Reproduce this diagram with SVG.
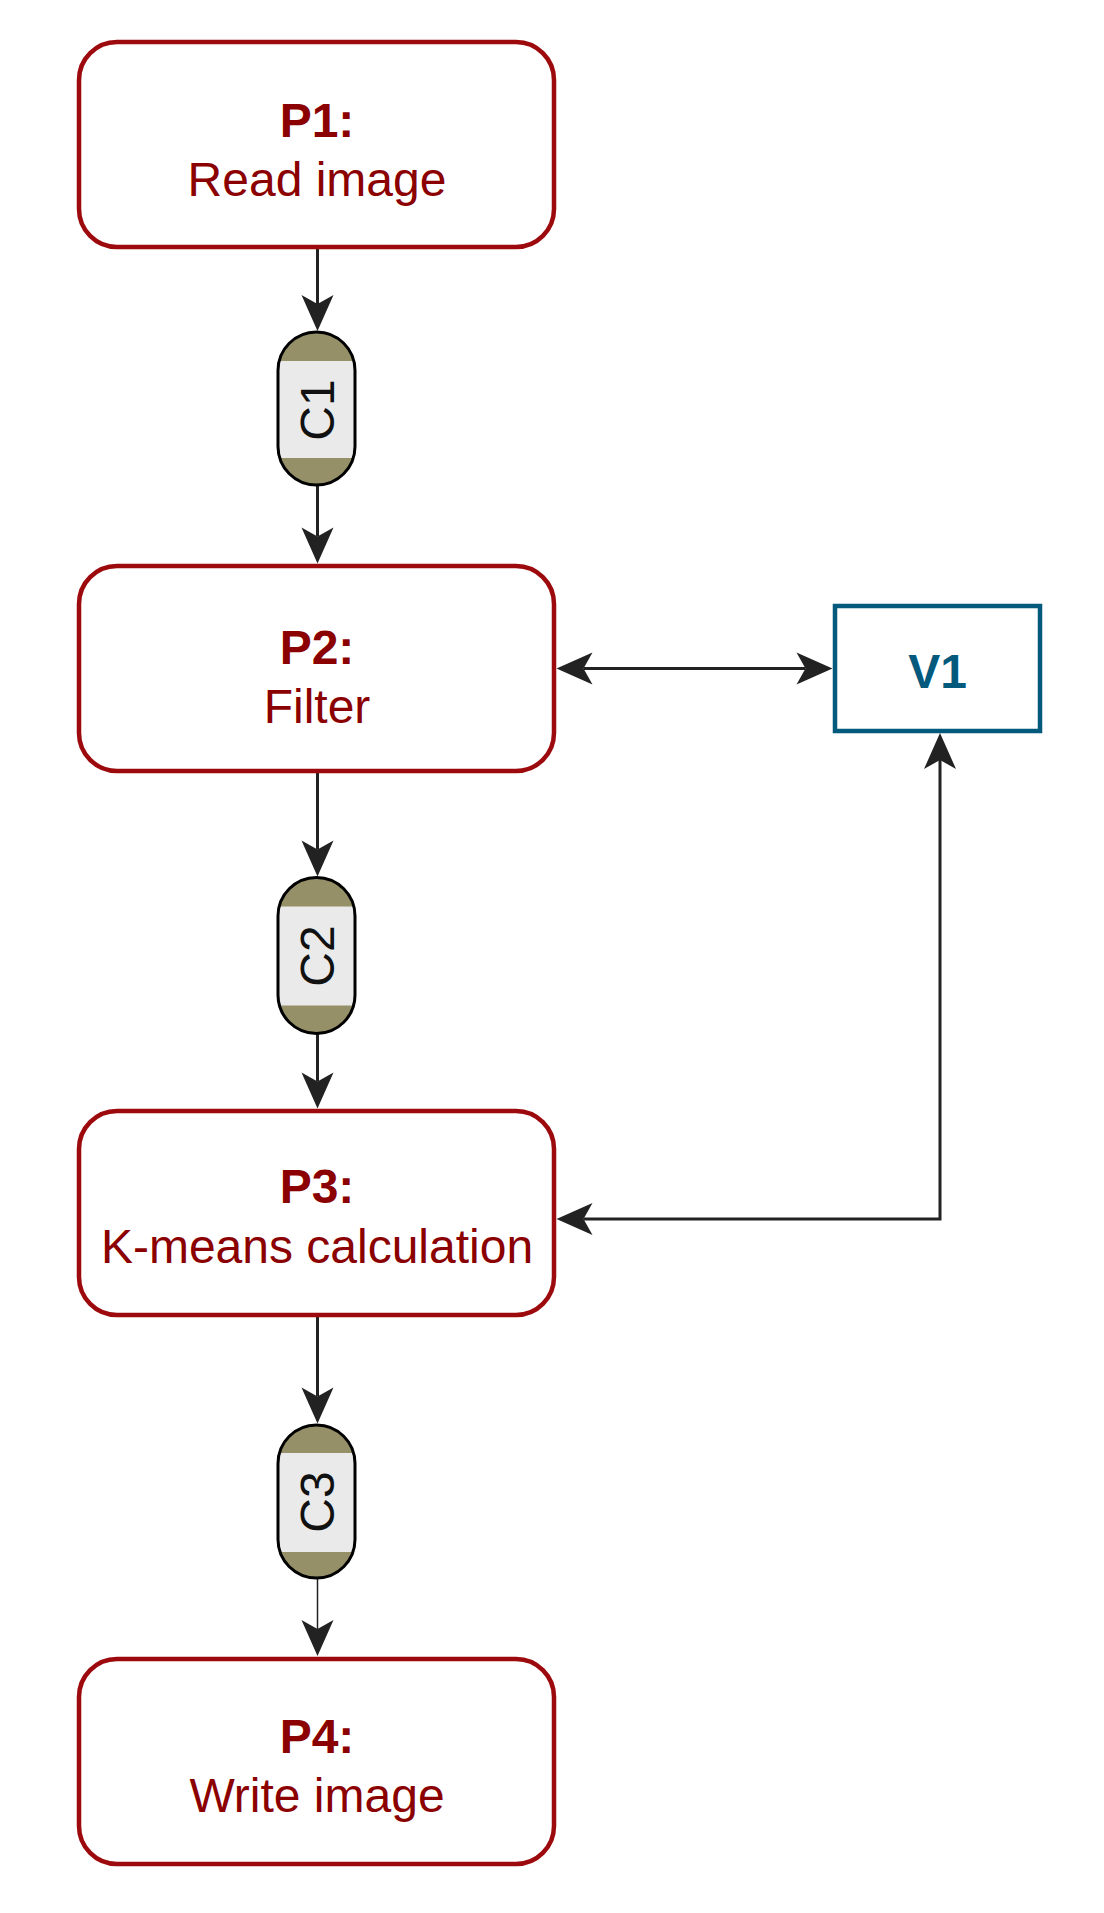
<svg xmlns="http://www.w3.org/2000/svg" width="1104" height="1913" viewBox="0 0 1104 1913">
  <style>
    .proc { fill: #ffffff; stroke: #9C0A0E; stroke-width: 4.5; }
    .ptitle { font-family: "Liberation Sans", Arial, sans-serif; font-size: 48px; font-weight: bold; fill: #8B0000; text-anchor: middle; }
    .ptext { font-family: "Liberation Sans", Arial, sans-serif; font-size: 48px; fill: #8B0000; text-anchor: middle; }
    .cap-olive { fill: #959068; }
    .cap-grey { fill: #EAEAEA; }
    .cap-outline { fill: none; stroke: #000000; stroke-width: 3; }
    .ctext { font-family: "Liberation Sans", Arial, sans-serif; font-size: 48px; fill: #111111; text-anchor: middle; }
    .var { fill: #ffffff; stroke: #035A7D; stroke-width: 4.5; }
    .vtext { font-family: "Liberation Sans", Arial, sans-serif; font-size: 48px; font-weight: bold; fill: #035A7D; text-anchor: middle; }
    .conn { fill: none; stroke: #222222; stroke-width: 3; }
    .conn-thin { fill: none; stroke: #222222; stroke-width: 1.5; }
  </style>
  <defs>
    <marker id="arrow" markerUnits="userSpaceOnUse" markerWidth="40" markerHeight="36" viewBox="-10 -18 40 36" refX="0" refY="0" orient="auto-start-reverse" overflow="visible">
      <path d="M27,0 L-9,-16 L0,0 L-9,16 Z" fill="#222222"/>
    </marker>
    <clipPath id="capC1"><rect x="278" y="332" width="77" height="153" rx="38.5" ry="38.5"/></clipPath>
    <clipPath id="capC2"><rect x="278" y="877.5" width="77" height="156" rx="38.5" ry="38.5"/></clipPath>
    <clipPath id="capC3"><rect x="278" y="1425" width="77" height="153" rx="38.5" ry="38.5"/></clipPath>
  </defs>

  <g id="connectors">
    <line class="conn" x1="317.5" y1="247" x2="317.5" y2="304" marker-end="url(#arrow)"/>
    <line class="conn" x1="317.5" y1="485" x2="317.5" y2="536.5" marker-end="url(#arrow)"/>
    <line class="conn" x1="317.5" y1="771" x2="317.5" y2="849.5" marker-end="url(#arrow)"/>
    <line class="conn" x1="317.5" y1="1033.5" x2="317.5" y2="1081.5" marker-end="url(#arrow)"/>
    <line class="conn" x1="317.5" y1="1315" x2="317.5" y2="1396.5" marker-end="url(#arrow)"/>
    <line class="conn-thin" x1="317.5" y1="1578" x2="317.5" y2="1629" marker-end="url(#arrow)"/>
    <line class="conn" x1="583.5" y1="668.5" x2="805.5" y2="668.5" marker-start="url(#arrow)" marker-end="url(#arrow)"/>
    <path class="conn" d="M583.5,1219 L940,1219 L940,760" marker-start="url(#arrow)" marker-end="url(#arrow)"/>
  </g>

  <g id="P1">
    <rect class="proc" x="79" y="42" width="475" height="205" rx="38" ry="38"/>
    <text class="ptitle" x="317" y="137">P1:</text>
    <text class="ptext" x="317" y="196">Read image</text>
  </g>

  <g id="P2">
    <rect class="proc" x="79" y="566" width="475" height="205" rx="38" ry="38"/>
    <text class="ptitle" x="317" y="664">P2:</text>
    <text class="ptext" x="317" y="723">Filter</text>
  </g>

  <g id="P3">
    <rect class="proc" x="79" y="1111" width="475" height="204" rx="38" ry="38"/>
    <text class="ptitle" x="317" y="1203">P3:</text>
    <text class="ptext" x="317" y="1263">K-means calculation</text>
  </g>

  <g id="P4">
    <rect class="proc" x="79" y="1659" width="475" height="205" rx="38" ry="38"/>
    <text class="ptitle" x="317" y="1753">P4:</text>
    <text class="ptext" x="317" y="1812">Write image</text>
  </g>

  <g id="C1">
    <g clip-path="url(#capC1)">
      <rect class="cap-olive" x="278" y="332" width="77" height="153"/>
      <rect class="cap-grey" x="278" y="361" width="77" height="97"/>
    </g>
    <rect class="cap-outline" x="278" y="332" width="77" height="153" rx="38.5" ry="38.5"/>
    <text class="ctext" transform="translate(317,410) rotate(-90)" x="0" y="17">C1</text>
  </g>

  <g id="C2">
    <g clip-path="url(#capC2)">
      <rect class="cap-olive" x="278" y="877.5" width="77" height="156"/>
      <rect class="cap-grey" x="278" y="906.5" width="77" height="99"/>
    </g>
    <rect class="cap-outline" x="278" y="877.5" width="77" height="156" rx="38.5" ry="38.5"/>
    <text class="ctext" transform="translate(317,956) rotate(-90)" x="0" y="17">C2</text>
  </g>

  <g id="C3">
    <g clip-path="url(#capC3)">
      <rect class="cap-olive" x="278" y="1425" width="77" height="153"/>
      <rect class="cap-grey" x="278" y="1453" width="77" height="99"/>
    </g>
    <rect class="cap-outline" x="278" y="1425" width="77" height="153" rx="38.5" ry="38.5"/>
    <text class="ctext" transform="translate(317,1502) rotate(-90)" x="0" y="17">C3</text>
  </g>

  <g id="V1">
    <rect class="var" x="835" y="606" width="205" height="125"/>
    <text class="vtext" x="937.5" y="688">V1</text>
  </g>
</svg>
